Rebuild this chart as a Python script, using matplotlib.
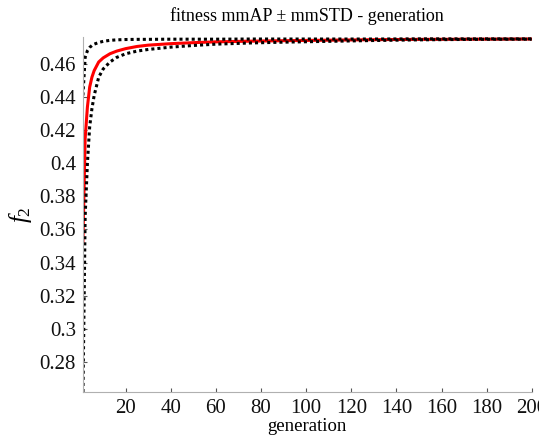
import matplotlib
matplotlib.use("Agg")
import matplotlib.pyplot as plt
import numpy as np

# ---- data ----
generation = [1, 2, 3, 4, 5, 6, 8, 10, 13, 16, 20, 25, 30, 40, 50, 60, 75, 90, 110, 130, 150, 175, 200]
mean_fit = [0.352, 0.415, 0.434, 0.446, 0.452, 0.456, 0.4612, 0.4637, 0.4662, 0.4678, 0.4693, 0.4706,
            0.4714, 0.4723, 0.4729, 0.4734, 0.4738, 0.4741, 0.4744, 0.4747, 0.4749, 0.4750, 0.4751]
upper_fit = [0.441, 0.464, 0.468, 0.470, 0.4712, 0.4720, 0.4730, 0.4737, 0.4743, 0.4746, 0.4748, 0.4749,
             0.4749, 0.4750, 0.4750, 0.4750, 0.4751, 0.4751, 0.4751, 0.4751, 0.4752, 0.4752, 0.4752]
lower_fit = [0.258, 0.368, 0.400, 0.422, 0.433, 0.441, 0.452, 0.457, 0.4612, 0.4640, 0.4662, 0.4678,
             0.4688, 0.4702, 0.4712, 0.4720, 0.4727, 0.4732, 0.4737, 0.4742, 0.4746, 0.4749, 0.4750]
x_ticks = [20, 40, 60, 80, 100, 120, 140, 160, 180, 200]
y_ticks = [0.28, 0.30, 0.32, 0.34, 0.36, 0.38, 0.40, 0.42, 0.44, 0.46]
y_tick_labels = ["0.28", "0.3", "0.32", "0.34", "0.36", "0.38", "0.4", "0.42", "0.44", "0.46"]

plt.rcParams['font.family'] = ['Liberation Serif', 'DejaVu Serif']
plt.rcParams['mathtext.fontset'] = 'custom'
plt.rcParams['mathtext.rm'] = 'Liberation Serif'
plt.rcParams['mathtext.it'] = 'Liberation Serif:italic'

fig = plt.figure(figsize=(5.39, 4.38), dpi=100)
ax = fig.add_axes([0.1538, 0.1057, 0.8327, 0.8105])

ax.plot(generation, mean_fit, color='#ff0000', lw=2.2, solid_joinstyle='round')
ax.plot(generation, upper_fit, color='black', lw=2.2, linestyle=(0, (1, 1)))
ax.plot(generation, lower_fit, color='black', lw=2.2, linestyle=(0, (1, 1)))

ax.set_xlim(1, 200)
ax.set_ylim(0.2619, 0.4765)

for s in ['top', 'right']:
    ax.spines[s].set_visible(False)
for s in ['left', 'bottom']:
    ax.spines[s].set_color('#b0b0b0')
    ax.spines[s].set_linewidth(0.8)

ax.set_xticks(x_ticks)
ax.set_yticks(y_ticks)
ax.set_yticklabels(y_tick_labels)
ax.tick_params(direction='in', length=3, width=0.8, color='#555555',
               labelsize=15, labelcolor='#111111', pad=5)

ax.set_title('fitness mmAP \u00b1 mmSTD - generation', fontsize=13, pad=11)
ax.set_xlabel('generation', fontsize=13.5, labelpad=0)
ax.set_ylabel('$f_2$', fontsize=18, labelpad=4)

fig.savefig('out.png', dpi=100)
